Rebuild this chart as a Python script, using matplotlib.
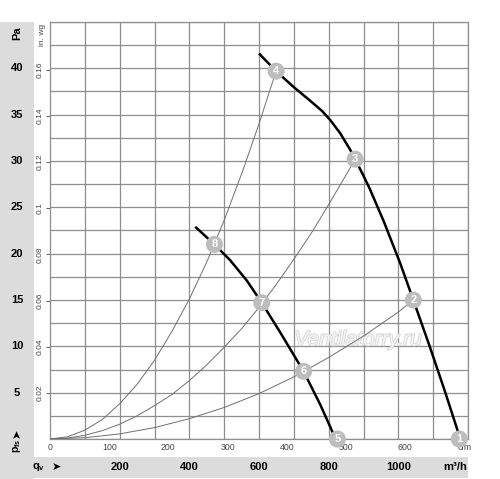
import matplotlib
matplotlib.use("Agg")
import matplotlib.pyplot as plt
from matplotlib.patches import Rectangle
import matplotlib.transforms as mtransforms
import matplotlib.patheffects as pe

plt.rcParams['font.family'] = ['Liberation Sans', 'DejaVu Sans']

# ---- data ----
# fan curves: airflow (m3/h) vs static pressure (Pa)
fan1_q = [600, 649, 699, 747, 781, 805, 833, 862, 876, 900, 918, 958, 1006, 1043, 1090, 1135, 1178]
fan1_p = [41.6, 39.7, 38.0, 36.5, 35.4, 34.4, 33.0, 31.2, 30.2, 28.4, 27.0, 23.5, 18.9, 15.0, 10.0, 5.0, 0.0]
fan2_q = [417, 472, 517, 565, 608, 661, 728, 776, 820]
fan2_p = [22.9, 21.0, 19.3, 17.1, 14.7, 11.5, 7.3, 3.7, 0.0]

# system curves (thin grey)
sysA_q = [0, 50, 100, 150, 200, 250, 300, 350, 400, 450, 500, 550, 600, 649]
sysA_p = [0, 0.24, 0.95, 2.1, 3.8, 5.9, 8.5, 11.6, 15.1, 19.1, 23.6, 28.6, 34.0, 39.7]
sysB_q = [0, 50, 100, 150, 200, 250, 300, 350, 400, 450, 500, 550, 600, 650, 700, 750, 800, 850, 876]
sysB_p = [0, 0.1, 0.4, 0.9, 1.6, 2.5, 3.6, 4.8, 6.3, 8.0, 9.9, 11.9, 14.2, 16.7, 19.4, 22.2, 25.3, 28.5, 30.2]
sysC_q = [0, 100, 200, 300, 400, 500, 600, 700, 800, 900, 1000, 1043]
sysC_p = [0, 0.14, 0.55, 1.23, 2.19, 3.4, 4.9, 6.7, 8.8, 11.1, 13.7, 15.0]

# operating points
pts_q = [1175, 1043, 876, 649, 825, 728, 608, 472]
pts_p = [0.0, 15.0, 30.2, 39.7, 0.0, 7.3, 14.7, 21.0]
pts_lbl = ['1', '2', '3', '4', '5', '6', '7', '8']

# tick labels
pa_ticks = [5, 10, 15, 20, 25, 30, 35, 40]
inwg_ticks = [0.02, 0.04, 0.06, 0.08, 0.1, 0.12, 0.14, 0.16]
inwg_lbls = ['0.02', '0.04', '0.06', '0.08', '0.1', '0.12', '0.14', '0.16']
cfm_ticks = [0, 100, 200, 300, 400, 500, 600]
m3h_ticks = [200, 400, 600, 800, 1000]

PA_PER_INWG = 249.09
M3H_PER_CFM = 1.699

W, H = 500, 479
fig = plt.figure(figsize=(W / 100, H / 100), dpi=100)
fig.patch.set_facecolor('white')

GREY_BG = '#dcdcdc'
# left grey column and bottom grey strip
fig.patches.append(Rectangle((0, 0), 34 / W, (H - 22) / H, transform=fig.transFigure,
                             facecolor=GREY_BG, edgecolor='none', zorder=0))
fig.patches.append(Rectangle((0, (H - 478) / H), 468 / W, 21 / H, transform=fig.transFigure,
                             facecolor=GREY_BG, edgecolor='none', zorder=0))

ax = fig.add_axes([50 / W, (H - 439) / H, 418 / W, 417 / H])
ax.set_xlim(0, 1200)
ax.set_ylim(0, 45)

gridc = '#8e8e8e'
ax.set_xticks([i * 100 for i in range(13)], minor=True)
ax.set_yticks([i * 2.5 for i in range(19)], minor=True)
ax.grid(True, which='minor', color=gridc, lw=0.9)
ax.tick_params(which='minor', length=0)
for s in ax.spines.values():
    s.set_color(gridc)
    s.set_linewidth(0.9)

# x: cfm labels
ax.set_xticks([c * M3H_PER_CFM for c in cfm_ticks] + [700 * M3H_PER_CFM])
ax.set_xticklabels([str(c) for c in cfm_ticks] + ['cfm'], fontsize=6.3, color='#444444')
ax.tick_params(axis='x', which='major', length=0, pad=3)
# y: in. wg labels
ax.set_yticks([v * PA_PER_INWG for v in inwg_ticks])
ax.set_yticklabels(inwg_lbls, fontsize=6, rotation=90, va='center', color='#444444')
ax.tick_params(axis='y', which='major', length=3, width=0.6, color='#444444', pad=1.5)

# system curves
for q, p in [(sysA_q, sysA_p), (sysB_q, sysB_p), (sysC_q, sysC_p)]:
    ax.plot(q, p, color='#6f6f6f', lw=0.7, zorder=3)

# fan curves
ax.plot(fan1_q, fan1_p, color='black', lw=1.8, zorder=4, solid_capstyle='butt',
        solid_joinstyle='round')
ax.plot(fan2_q, fan2_p, color='black', lw=1.8, zorder=4, solid_capstyle='butt',
        solid_joinstyle='round')

# watermark
ax.text(885, 10.7, 'Ventilatorry.ru', fontsize=15, style='italic', color='#f4f4f4',
        ha='center', va='center', zorder=2,
        path_effects=[pe.withStroke(linewidth=1.2, foreground='#d6d6d6')])

# operating point markers
ax.scatter(pts_q, pts_p, s=150, color='#bdbdbd', edgecolors='none', zorder=6, clip_on=False)
for q, p, l in zip(pts_q, pts_p, pts_lbl):
    ax.text(q, p, l, color='white', fontsize=8, fontweight='bold', ha='center', va='center',
            zorder=7, clip_on=False)

# Pa labels in left column
tr_y = mtransforms.blended_transform_factory(fig.transFigure, ax.transData)
for v in pa_ticks:
    fig.text(17 / W, v, str(v), transform=tr_y, fontsize=8, fontweight='bold',
             ha='center', va='center')
fig.text(17 / W, (H - 33) / H, 'Pa', rotation=90, fontsize=8, fontweight='bold',
         ha='center', va='center')
fig.text(17 / W, (H - 446) / H, 'p$_{\\mathregular{fs}}$', rotation=90, fontsize=7.5,
         fontweight='bold', ha='center', va='center')
fig.text(17 / W, (H - 433) / H, '➤', rotation=90, fontsize=8, family='DejaVu Sans',
         ha='center', va='center')
fig.text(42 / W, (H - 35) / H, 'in. wg', rotation=90, fontsize=6, color='#444444',
         ha='center', va='center')

# bottom strip labels
tr_x = mtransforms.blended_transform_factory(ax.transData, fig.transFigure)
yb = (H - 467) / H
for v in m3h_ticks:
    fig.text(v, yb, str(v), transform=tr_x, fontsize=8, fontweight='bold',
             ha='center', va='center')
fig.text(455 / W, yb, 'm³/h', fontsize=8, fontweight='bold', ha='center', va='center')
fig.text(39 / W, yb, 'q$_{\\mathregular{v}}$', fontsize=8, fontweight='bold',
         ha='center', va='center')
fig.text(56 / W, yb, '➤', fontsize=8, family='DejaVu Sans', ha='center', va='center')

fig.savefig('out.png', dpi=100, facecolor='white')
